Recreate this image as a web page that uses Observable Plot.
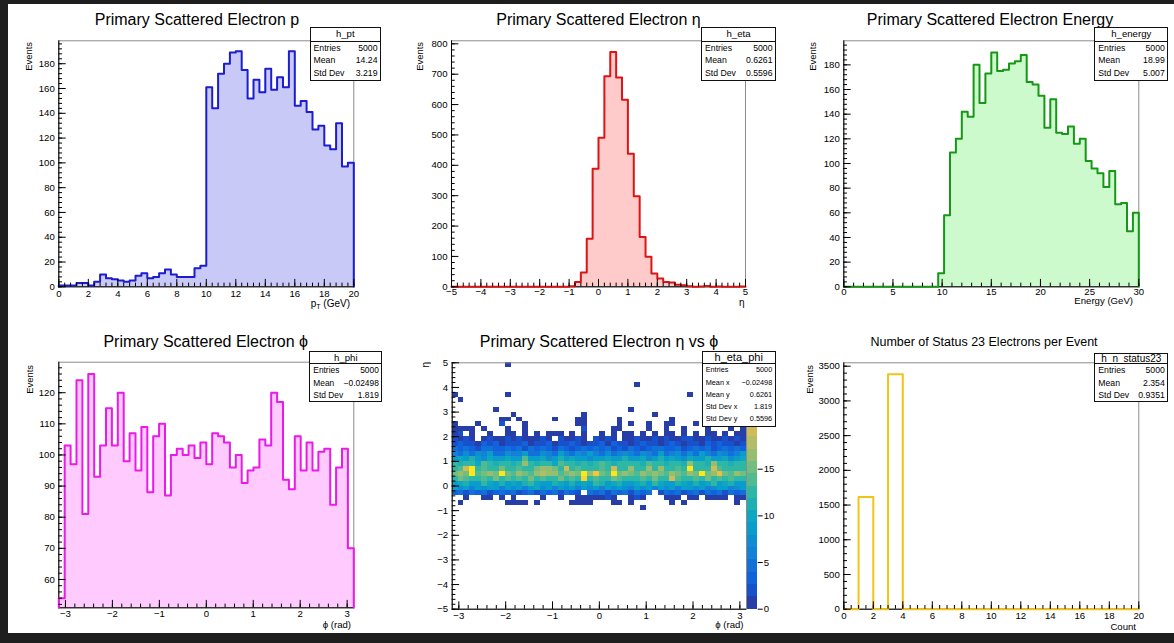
<!DOCTYPE html>
<html>
<head>
<meta charset="utf-8">
<script src="https://cdn.jsdelivr.net/npm/d3@7"></script>
<script src="https://cdn.jsdelivr.net/npm/@observablehq/plot@0.6"></script>
<style>
  html, body { margin: 0; padding: 0; background: #1e1e1e; }
  #root { position: relative; width: 1174px; height: 643px; overflow: hidden; background: #1e1e1e;
          font-family: "Liberation Sans", Arial, Helvetica, sans-serif; color: #000; }
  #paper { position: absolute; left: 8px; top: 4px; width: 1166px; height: 629px; background: #fff; }
  .txt { position: absolute; white-space: nowrap; color: #000; }
  .txt sub { font-size: 70%; vertical-align: -0.35em; line-height: 0; }
  .vtxt { position: absolute; white-space: nowrap; writing-mode: vertical-rl; transform: rotate(180deg); color: #000; }
  .stats { position: absolute; background: #fff; border: 1px solid #111; box-sizing: border-box; z-index: 5; }
  .stats .hdr { text-align: center; border-bottom: 1px solid #111; box-sizing: border-box; }
  .stats .row { display: flex; justify-content: space-between; padding: 0 2.5px 0 3px; }
  #root svg { position: absolute; }
</style>
</head>
<body>
<div id="root"><div id="paper"></div></div>
<script>
// ---------------- data ----------------
const ptValues = [1,1,1,3,3,1,4,10,7,6, 5,4,5,9,11,7,8,11,14,10, 8,8,8,15,17,
  161,144,172,180,189,190,175,152,167,157, 176,159,169,161,190,146,150,141,127,130, 114,111,132,97,100];
const etaValues = [0,0,0,0,0,0,0,0,0,0, 0,0,0,0,0,0,0,0,0,0,
  2,16,47,158,389,491,693,773,689,616, 438,298,164,99,44,27,16,14,7,5,
  2,0,1,3,0,1,0,0,0,1];
const energyValues = [0,0,0,0,0,0,0,0,0,0, 0,0,0,0,0,0,
  11,58,109,120,142,138,180,149,173,190, 175,176,181,183,188,166,164,155,129,152,
  125,124,130,116,120,102,96,92,81,94, 67,68,45,60];
const phiValues = [54,103,97,124,81,126,93,103,115,103, 120,98,107,95,109,88,106,110,87,100,
  102,100,103,99,104,97,107,106,104,96, 100,91,95,96,105,103,120,117,92,89,
  106,95,104,95,101,102,84,96,102,70];
const nStatusValues = [0,1615,0,3385,0,0,0,0,0,0, 0,0,0,0,0,0,0,0,0,0];
// eta (rows, from eta=5 downwards, 0.2 per row) vs phi (50 columns); '.'=0, digits, a=10 ... p=25
const etaPhiRows = [
  ".........1 .......... .......... .......... ..........",
  ".......... .......... .......... .......... ..........",
  ".......... .......... .......... .......... ..........",
  ".......... .......... .......... .......... ..........",
  ".......... .......... .......... .1........ ..........",
  ".......... .......... .......... .......... ..........",
  "1........1 .......... .......... .......... 1.........",
  ".1........ .......... .......... .......... ..........",
  ".......... .......... .......... .......... ..........",
  ".......1.. .......... .......... 1......... ..........",
  ".......... 1......... ..1....... ....1..... ..........",
  "........11 .1.....1.. .11.....1. .......1.. ..........",
  "1...1...2. ..1....... .11.....1. 1..1..11.. .1.....1..",
  "1111.1...1 ..1....... ..2....11. ...1..1..1 ...1...1.1",
  "12.1..1..1 1.1.1.111. 1.1..1.1.1 1.1.1.11.1 .1.11.1.11",
  "2121.12112 1211121.21 121.2121.1 1211212112 2112112121",
  "2322132312 2231223122 3212231322 1232212321 2213232212",
  "4343245334 3425343243 2343534232 4323453342 3435234343",
  "6575768457 6685476586 5768657467 6576485675 7586576468",
  "9a8b97a89a 89e98a79b8 a89798a98b 98a79b8a97 a98b89a79a",
  "cbdcaecbdc bdgcbdcaec cbdbcecbdc dcbecdbcdb hcdbgdcbdc",
  "dejpcedcfd cedcfhgfcj decdcedjdc hdchdgcdec odcdjecdcd",
  "fgfpefgfof egfegihgef gfogmfeofg fegfhfegfe gfpfglfegf",
  "dfedcedfde cedfdecdfd edndecdfed dcedfcdjed cedfdecedc",
  "9ab98ca9b8 a9bca89ba9 b9a8cb9ab9 8ab9ca98ba 9b8ac9ab98",
  "8796879868 7968a78697 8697869787 6879687968 9786789678",
  "3425342353 4235243425 32.4352434 2534.24352 3425342435",
  "..1..11.1. 1....1..1. .1111121.. 121...111. 11.1111.11",
  ".1.......1 111.1..... 1111...11. 1......1.1 ........1.",
  ".......... .......... .......... ..1....... .........."
];
const titles = ["Primary Scattered Electron p", "Primary Scattered Electron η", "Primary Scattered Electron Energy",
  "Primary Scattered Electron ϕ", "Primary Scattered Electron η vs ϕ", "Number of Status 23 Electrons per Event"];
const xTitles = ["p<sub>T</sub> (GeV)", "η", "Energy (GeV)", "ϕ (rad)", "ϕ (rad)", "Count"];
const yTitles = ["Events", "Events", "Events", "Events", "η", "Events"];
const statsNames = ["h_pt", "h_eta", "h_energy", "h_phi", "h_eta_phi", "h_n_status23"];
const statsPt = [["Entries", "5000"], ["Mean", "14.24"], ["Std Dev", "3.219"]];
const statsEta = [["Entries", "5000"], ["Mean", "0.6261"], ["Std Dev", "0.5596"]];
const statsEnergy = [["Entries", "5000"], ["Mean", "18.99"], ["Std Dev", "5.007"]];
const statsPhi = [["Entries", "5000"], ["Mean", "−0.02498"], ["Std Dev", "1.819"]];
const statsEtaPhi = [["Entries", "5000"], ["Mean x", "−0.02498"], ["Mean y", "0.6261"], ["Std Dev x", "1.819"], ["Std Dev y", "0.5596"]];
const statsN = [["Entries", "5000"], ["Mean", "2.354"], ["Std Dev", "0.9351"]];
const zMax = 26.4;
const colorbarTicks = [0, 5, 10, 15];

// ROOT kBird palette definition
const birdStops = [0, 0.125, 0.25, 0.375, 0.5, 0.625, 0.75, 0.875, 1];
const birdRed = [0.2082, 0.0592, 0.0780, 0.0232, 0.1802, 0.5301, 0.8186, 0.9956, 0.9764];
const birdGreen = [0.1664, 0.3599, 0.5041, 0.6419, 0.7178, 0.7492, 0.7328, 0.7862, 0.9832];
const birdBlue = [0.5293, 0.8684, 0.8385, 0.7914, 0.6425, 0.4662, 0.3499, 0.1968, 0.0539];

// ---------------- helpers ----------------
const root = document.getElementById("root");
const minus = d => (d < 0 ? "−" : "") + Math.abs(d);
const steps = (a, b, s) => d3.range(0, Math.round((b - a) / s) + 1).map(i => +(a + i * s).toFixed(6));

function addText(html, x, baseline, fs, anchor) {
  const d = document.createElement("div");
  d.className = "txt";
  d.innerHTML = html;
  d.style.fontSize = fs + "px";
  d.style.lineHeight = fs + "px";
  d.style.left = x + "px";
  d.style.top = (baseline - 0.8465 * fs) + "px";
  d.style.transform = `translateX(${anchor === "middle" ? "-50%" : anchor === "end" ? "-100%" : "0"})`;
  root.appendChild(d);
}
function addVText(text, cx, top, fs) {
  const d = document.createElement("div");
  d.className = "vtxt";
  d.textContent = text;
  d.style.fontSize = fs + "px";
  d.style.lineHeight = fs + "px";
  d.style.left = (cx - fs / 2) + "px";
  d.style.top = top + "px";
  root.appendChild(d);
}
function addStats(name, rows, left, top, width, hdrH, rowH, hdrFs, rowFs) {
  const b = document.createElement("div");
  b.className = "stats";
  b.style.left = left + "px"; b.style.top = top + "px"; b.style.width = width + "px";
  const h = document.createElement("div");
  h.className = "hdr"; h.textContent = name;
  h.style.height = hdrH + "px"; h.style.lineHeight = (hdrH - 1) + "px"; h.style.fontSize = hdrFs + "px";
  b.appendChild(h);
  for (const [k, v] of rows) {
    const r = document.createElement("div");
    r.className = "row";
    r.style.height = rowH + "px"; r.style.lineHeight = rowH + "px"; r.style.fontSize = rowFs + "px";
    const a = document.createElement("span"); a.textContent = k;
    const c = document.createElement("span"); c.textContent = v;
    r.appendChild(a); r.appendChild(c);
    b.appendChild(r);
  }
  root.appendChild(b);
}
function histMarks(values, lo, hi, base, stroke, fill) {
  const n = values.length, w = (hi - lo) / n;
  const pts = values.map((v, i) => ({x: lo + i * w, y: v}));
  pts.push({x: hi, y: values[n - 1]});
  const outline = [{x: lo, y: base}, ...pts, {x: hi, y: base}];
  const under = fill ? [Plot.areaY(pts, {x: "x", y1: () => base, y2: "y", curve: "step-after", fill})] : [];
  const over = [Plot.line(outline, {x: "x", y: "y", curve: "step-after", stroke, strokeWidth: 2})];
  return {under, over};
}
function panel(o) {
  const mL = o.fx0 - o.left, mR = o.left + o.width - o.fx1, mT = o.fy0 - o.top, mB = o.top + o.height - o.fy1;
  const iw = o.fx1 - o.fx0, ih = o.fy1 - o.fy0;
  const chart = Plot.plot({
    width: o.width, height: o.height,
    marginLeft: mL, marginRight: mR, marginTop: mT, marginBottom: mB,
    x: {domain: o.xDomain},
    y: {domain: o.yDomain},
    color: o.color,
    style: {fontFamily: "'Liberation Sans', Arial, sans-serif", fontSize: "9.6px", background: "transparent", color: "#000", overflow: "visible"},
    marks: [
      ...(o.under || []),
      Plot.frame({stroke: "#8c8c8c"}),
      Plot.ruleX([o.xDomain[0]], {stroke: "#000"}),
      Plot.ruleY([o.yDomain[0]], {stroke: "#000"}),
      ...(o.over || []),
      Plot.ruleX(o.xMinor.filter(v => v >= o.xDomain[0] && v <= o.xDomain[1]), {insetTop: ih - 3.7, stroke: "#000"}),
      Plot.ruleX(o.xMajor, {insetTop: ih - 7.4, stroke: "#000"}),
      Plot.ruleY(o.yMinor.filter(v => v >= o.yDomain[0] && v <= o.yDomain[1]), {insetRight: iw - 3.7, stroke: "#000"}),
      Plot.ruleY(o.yMajor, {insetRight: iw - 7.4, stroke: "#000"}),
      Plot.axisX(o.xMajor, {tickSize: 0, tickPadding: o.xPad ?? 3, label: null, tickFormat: minus}),
      Plot.axisY(o.yMajor, {tickSize: 0, tickPadding: 4, label: null, tickFormat: minus})
    ]
  });
  chart.style.left = o.left + "px";
  chart.style.top = o.top + "px";
  root.appendChild(chart);
}

// ---------------- panel 1: pT ----------------
{
  const h = histMarks(ptValues, 0, 20, 0, "#1c1cd0", "#c9c9f7");
  panel({left: 10, top: 30, width: 380, height: 290, fx0: 58.3, fx1: 353.3, fy0: 40.3, fy1: 286.3,
    xDomain: [0, 20], yDomain: [0, 198.5], xMajor: steps(0, 20, 2), xMinor: steps(0, 20, 0.4),
    yMajor: steps(0, 180, 20), yMinor: steps(0, 196, 4), under: h.under, over: h.over, xPad: 3});
}
// ---------------- panel 2: eta ----------------
{
  const h = histMarks(etaValues, -5, 5, 0, "#dc1414", "#ffcaca");
  panel({left: 400, top: 30, width: 380, height: 290, fx0: 451, fx1: 745, fy0: 40.3, fy1: 286.3,
    xDomain: [-5, 5], yDomain: [0, 810], xMajor: steps(-5, 5, 1), xMinor: steps(-5, 5, 0.2),
    yMajor: steps(0, 800, 100), yMinor: steps(0, 800, 20), under: h.under, over: h.over, xPad: 1.8});
}
// ---------------- panel 3: energy ----------------
{
  const h = histMarks(energyValues, 0, 30, 0, "#169816", "#ccfacc");
  panel({left: 790, top: 30, width: 384, height: 290, fx0: 843.3, fx1: 1138.3, fy0: 40.3, fy1: 286.3,
    xDomain: [0, 30], yDomain: [0, 199.5], xMajor: steps(0, 30, 5), xMinor: steps(0, 30, 1),
    yMajor: steps(0, 180, 20), yMinor: steps(0, 196, 4), under: h.under, over: h.over, xPad: 1.2});
}
// ---------------- panel 4: phi ----------------
{
  const h = histMarks(phiValues, -Math.PI, Math.PI, 50.9, "#ea1aea", "#ffcbff");
  panel({left: 10, top: 350, width: 380, height: 290, fx0: 58.3, fx1: 353.3, fy0: 361.7, fy1: 607.3,
    xDomain: [-Math.PI, Math.PI], yDomain: [50.9, 129.8], xMajor: steps(-3, 3, 1), xMinor: steps(-3, 3, 0.2),
    yMajor: steps(60, 120, 10), yMinor: steps(52, 128, 2), under: h.under, over: h.over, xPad: 2.5});
}
// ---------------- panel 5: eta vs phi ----------------
const thresholds = d3.range(1, 20).map(k => k * zMax / 20);
const bird = t => d3.rgb(
  255 * d3.scaleLinear(birdStops, birdRed)(t),
  255 * d3.scaleLinear(birdStops, birdGreen)(t),
  255 * d3.scaleLinear(birdStops, birdBlue)(t)).formatHex();
const levelColors = d3.range(20).map(k => bird(Math.floor((k + 0.99) * 255 / 20) / 254));
const colorScale = {type: "threshold", domain: thresholds, range: levelColors};
{
  const nPhi = 50, dPhi = 2 * Math.PI / nPhi, dEta = 0.2;
  const cells = [];
  etaPhiRows.forEach((row, r) => {
    const s = row.replace(/ /g, "");
    for (let c = 0; c < nPhi; c++) {
      const ch = s[c];
      if (!ch || ch === ".") continue;
      cells.push({x1: -Math.PI + c * dPhi, x2: -Math.PI + (c + 1) * dPhi, y1: 5 - (r + 1) * dEta, y2: 5 - r * dEta, v: parseInt(ch, 36)});
    }
  });
  panel({left: 400, top: 350, width: 380, height: 290, fx0: 451.7, fx1: 746, fy0: 362.3, fy1: 608.7,
    xDomain: [-Math.PI, Math.PI], yDomain: [-5, 5], xMajor: steps(-3, 3, 1), xMinor: steps(-3, 3, 0.2),
    yMajor: steps(-5, 5, 1), yMinor: steps(-5, 5, 0.2), color: colorScale, xPad: 2.5,
    under: [Plot.rect(cells, {x1: "x1", x2: "x2", y1: "y1", y2: "y2", fill: "v", shapeRendering: "crispEdges"})]});
  // colour bar
  const bands = d3.range(20).map(k => ({lo: k * zMax / 20, hi: (k + 1) * zMax / 20, mid: (k + 0.5) * zMax / 20}));
  const cb = Plot.plot({
    width: 32, height: 290, marginLeft: 2.3, marginRight: 20.3, marginTop: 12.3, marginBottom: 31.3,
    x: {domain: [0, 1], axis: null}, y: {domain: [0, zMax]}, color: colorScale,
    style: {fontFamily: "'Liberation Sans', Arial, sans-serif", fontSize: "9.6px", background: "transparent", color: "#000", overflow: "visible"},
    marks: [
      Plot.rect(bands, {x1: () => 0, x2: () => 1, y1: "lo", y2: "hi", fill: "mid", shapeRendering: "crispEdges"}),
      Plot.axisY(colorbarTicks, {anchor: "right", tickSize: 5, tickPadding: 1.5, label: null})
    ]
  });
  cb.style.left = "745px"; cb.style.top = "350px";
  root.appendChild(cb);
}
// ---------------- panel 6: n status 23 ----------------
{
  const h = histMarks(nStatusValues, 0, 20, 0, "#f2c318", null);
  panel({left: 790, top: 350, width: 384, height: 290, fx0: 843.3, fx1: 1138.3, fy0: 362.3, fy1: 608.7,
    xDomain: [0, 20], yDomain: [0, 3549], xMajor: steps(0, 20, 2), xMinor: steps(0, 20, 0.5),
    yMajor: steps(0, 3500, 500), yMinor: steps(0, 3500, 100), under: h.under, over: h.over, xPad: 2.5});
}

// ---------------- texts ----------------
addText(titles[0], 197, 26, 16, "middle");
addText(titles[1], 598.5, 26, 16, "middle");
addText(titles[2], 990, 26, 16, "middle");
addText(titles[3], 205.7, 347.5, 16, "middle");
addText(titles[4], 599, 347.5, 16, "middle");
addText(titles[5], 984, 346.5, 12.5, "middle");
addText("T", 311.5, 33.5, 7.5, "start");

addText(xTitles[0], 350, 307, 10, "end");
addText(xTitles[1], 744.5, 306.5, 10, "end");
addText(xTitles[2], 1133, 304, 9.6, "end");
addText(xTitles[3], 351, 628.5, 9.6, "end");
addText(xTitles[4], 743.5, 628.5, 9.6, "end");
addText(xTitles[5], 1136, 630, 9.6, "end");

addVText(yTitles[0], 29, 42, 9.4);
addVText(yTitles[1], 420, 42, 9.4);
addVText(yTitles[2], 812.7, 42, 9.4);
addVText(yTitles[3], 29.2, 365, 9.4);
addVText(yTitles[4], 426, 362, 10);
addVText(yTitles[5], 809.7, 365, 9.4);

addStats(statsNames[0], statsPt, 309.5, 27.3, 71.5, 13.4, 12.8, 9.6, 8.7);
addStats(statsNames[1], statsEta, 701, 27.3, 75, 13.4, 12.8, 9.6, 8.7);
addStats(statsNames[2], statsEnergy, 1094.3, 27.3, 74, 13.4, 12.8, 9.6, 8.7);
addStats(statsNames[3], statsPhi, 309.3, 350.7, 73, 12.7, 12.3, 9.6, 8.4);
addStats(statsNames[4], statsEtaPhi, 701.7, 350.7, 74, 12.6, 12.3, 11, 7.3);
addStats(statsNames[5], statsN, 1094.3, 352.7, 74, 10.5, 12.4, 10, 8.7);
</script>
</body>
</html>
